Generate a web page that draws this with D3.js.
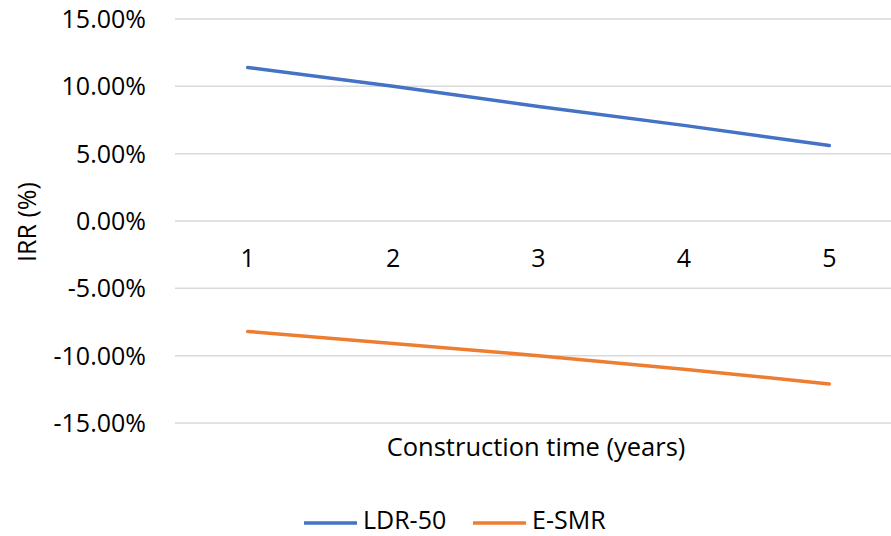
<!DOCTYPE html>
<html>
<head>
<meta charset="utf-8">
<script src="https://cdn.jsdelivr.net/npm/d3@7"></script>
<style>
  body { margin: 0; background: #fff; }
  text { font-family: "Open Sans", sans-serif; fill: #000; }
</style>
</head>
<body>
<div id="chart"></div>
<script>
// data
var years = ["1", "2", "3", "4", "5"];
var ldr50 = [11.4, 10.0, 8.5, 7.1, 5.6];
var esmr = [-8.2, -9.1, -10.0, -11.0, -12.1];
var yTicks = [15, 10, 5, 0, -5, -10, -15];
var seriesNames = ["LDR-50", "E-SMR"];
var seriesColors = ["#4472C4", "#ED7D31"];

var width = 891, height = 536;

var svg = d3.select("#chart")
  .append("svg")
    .attr("width", width)
    .attr("height", height);

// scales
var x = d3.scaleBand()
  .domain(years)
  .range([175, 902]);

var y = d3.scaleLinear()
  .domain([-15, 15])
  .range([423, 19]);

// gridlines
svg.append("g")
  .selectAll("line")
  .data(yTicks)
  .enter()
  .append("line")
    .attr("x1", 175)
    .attr("x2", 902)
    .attr("y1", function(d) { return y(d); })
    .attr("y2", function(d) { return y(d); })
    .attr("stroke", "#d9d9d9")
    .attr("stroke-width", 1.5);

// y tick labels
svg.append("g")
  .selectAll("text")
  .data(yTicks)
  .enter()
  .append("text")
    .attr("x", 146)
    .attr("y", function(d) { return y(d); })
    .attr("dy", "0.36em")
    .attr("text-anchor", "end")
    .style("font-size", "25px")
    .text(function(d) { return d.toFixed(2) + "%"; });

// category labels sit just under the zero line
svg.append("g")
  .selectAll("text")
  .data(years)
  .enter()
  .append("text")
    .attr("x", function(d) { return x(d) + x.bandwidth() / 2; })
    .attr("y", y(0) + 46)
    .attr("text-anchor", "middle")
    .style("font-size", "25px")
    .text(function(d) { return d; });

// lines
var line = d3.line()
  .x(function(d, i) { return x(years[i]) + x.bandwidth() / 2; })
  .y(function(d) { return y(d); });

[ldr50, esmr].forEach(function(vals, i) {
  svg.append("path")
    .datum(vals)
    .attr("d", line)
    .attr("fill", "none")
    .attr("stroke", seriesColors[i])
    .attr("stroke-width", 3.5)
    .attr("stroke-linecap", "round");
});

// axis titles
svg.append("text")
  .attr("transform", "translate(36,222) rotate(-90)")
  .attr("text-anchor", "middle")
  .style("font-size", "25px")
  .text("IRR (%)");

svg.append("text")
  .attr("x", 536)
  .attr("y", 456)
  .attr("text-anchor", "middle")
  .style("font-size", "25.5px")
  .text("Construction time (years)");

// legend
var legendX = [304, 473];
var legend = svg.append("g")
  .selectAll("g")
  .data(seriesNames)
  .enter()
  .append("g")
    .attr("transform", function(d, i) { return "translate(" + legendX[i] + ",523)"; });

legend.append("line")
  .attr("x1", 0)
  .attr("x2", 53)
  .attr("stroke", function(d, i) { return seriesColors[i]; })
  .attr("stroke-width", 3.5);

legend.append("text")
  .attr("x", 59)
  .attr("y", 6)
  .style("font-size", "25px")
  .text(function(d) { return d; });
</script>
</body>
</html>
